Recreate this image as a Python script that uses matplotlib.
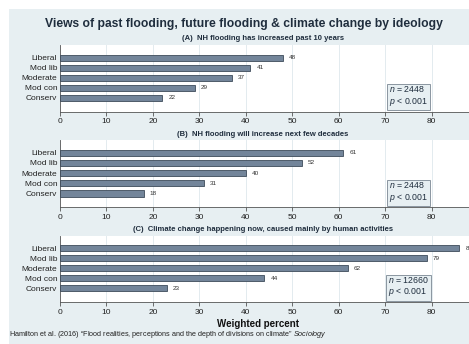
import matplotlib
matplotlib.use('Agg')
import matplotlib.pyplot as plt
import matplotlib.patches as patches

plt.rcParams['font.family'] = ['Liberation Sans', 'DejaVu Sans']
plt.rcParams['mathtext.fontset'] = 'custom'
plt.rcParams['mathtext.rm'] = 'Liberation Sans'
plt.rcParams['mathtext.it'] = 'Liberation Sans:italic'

categories = ['Liberal', 'Mod lib', 'Moderate', 'Mod con', 'Conserv']
panel_titles = ['(A)  NH flooding has increased past 10 years',
                '(B)  NH flooding will increase next few decades',
                '(C)  Climate change happening now, caused mainly by human activities']
values_a = [48, 41, 37, 29, 22]
values_b = [61, 52, 40, 31, 18]
values_c = [86, 79, 62, 44, 23]
panel_values = [values_a, values_b, values_c]
panel_n = [2448, 2448, 12660]
xticks = [0, 10, 20, 30, 40, 50, 60, 70, 80]

W, H = 469, 344
BG = '#e7eff2'
BAR = '#73859a'
EDGE = '#3e4b5a'


def px(x0, y0, x1, y1):
    """pixel box (top-left origin) -> figure fraction rect"""
    return [x0 / W, 1 - y1 / H, (x1 - x0) / W, (y1 - y0) / H]


fig = plt.figure(figsize=(W / 100, H / 100), dpi=100, facecolor='white')
fig.patches.append(patches.Rectangle((9 / W, 0), 1, 1 - 9 / H, transform=fig.transFigure,
                                     facecolor=BG, edgecolor='none', zorder=-10))

fig.text(244 / W, 1 - 24 / H, 'Views of past flooding, future flooding & climate change by ideology',
         ha='center', va='center', fontsize=8.75, fontweight='bold', color='#1f2d3d')

# axes boxes in pixels: (top, bottom)
boxes = [(45, 111.5), (140, 207.3), (235.5, 302)]
xmax = 90
right_px = 60 + 4.645 * xmax

for i, (top, bottom) in enumerate(boxes):
    ax = fig.add_axes(px(60, top, right_px, bottom))
    ax.set_facecolor('white')
    vals = panel_values[i]
    ypos = list(range(len(categories)))
    ax.barh(ypos, vals, height=0.6, color=BAR, edgecolor=EDGE, linewidth=0.6, zorder=3)
    for y, v in zip(ypos, vals):
        ax.text(v + 1.3, y, str(v), ha='left', va='center', fontsize=4.6, color='#333333')
    ax.set_xlim(0, xmax)
    ax.set_ylim(5.35, -1.25)
    ax.set_yticks(ypos)
    ax.set_yticklabels(categories, fontsize=6, color='#222222')
    ax.tick_params(axis='y', length=0, pad=2)
    ax.set_xticks(xticks)
    ax.set_xticklabels([str(t) for t in xticks], fontsize=6, color='#222222')
    ax.tick_params(axis='x', length=3, width=0.6, color='#555555', pad=2)
    ax.grid(axis='x', color='#e3ebef', linewidth=0.7, zorder=0)
    for s in ['top', 'right']:
        ax.spines[s].set_visible(False)
    for s in ['left', 'bottom']:
        ax.spines[s].set_color('#555555')
        ax.spines[s].set_linewidth(0.6)
    ax.text(75, 5.0, '$n$ = %d\n$p$ < 0.001' % panel_n[i], ha='center', va='bottom',
            fontsize=6.3, color='#1f2d3d', multialignment='left', zorder=5,
            bbox=dict(boxstyle='square,pad=0.25', facecolor=BG, edgecolor='#8a96a0', linewidth=0.7))
    fig.text(263 / W, 1 - (top - 6) / H, panel_titles[i], ha='center', va='center',
             fontsize=5.5, fontweight='bold', color='#1f2d3d')

fig.text(258 / W, 1 - 324 / H, 'Weighted percent', ha='center', va='center',
         fontsize=7, fontweight='bold', color='#111111')
fig.text(9 / W, 1 - 335 / H,
         'Hamilton et al. (2016) \u201cFlood realities, perceptions and the depth of divisions on climate\u201d $Sociology$',
         ha='left', va='center', fontsize=5.2, color='#222222')

fig.savefig('out.png', dpi=100, facecolor=fig.get_facecolor())
